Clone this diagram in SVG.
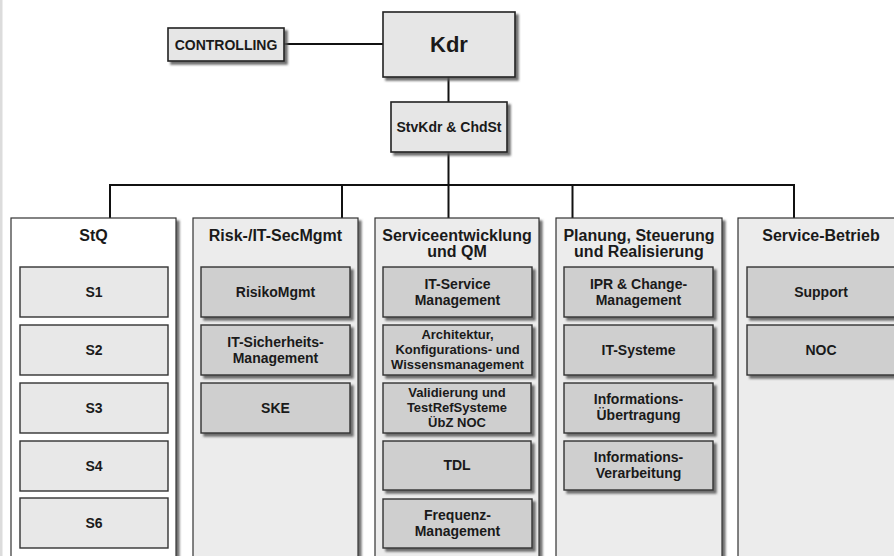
<svg xmlns="http://www.w3.org/2000/svg" width="894" height="556" viewBox="0 0 894 556">
  <defs>
    <filter id="shadow" x="-10%" y="-10%" width="130%" height="130%">
      <feDropShadow dx="3" dy="3" stdDeviation="0.8" flood-color="#555" flood-opacity="0.85"/>
    </filter>
  </defs>
  <style>
    text { font-family: "Liberation Sans", Arial, sans-serif; font-weight: bold; fill: #1a1a1a; text-anchor: middle; }
    .top { fill: #e6e6e6; stroke: #222; stroke-width: 1.6; filter: url(#shadow); }
    .col { fill: #ececec; stroke: #333; stroke-width: 1.2; filter: url(#shadow); }
    .col-white { fill: #ffffff; stroke: #333; stroke-width: 1.2; filter: url(#shadow); }
    .light { fill: #e8e8e8; stroke: #333; stroke-width: 1.4; }
    .dark { fill: #cfcfcf; stroke: #333; stroke-width: 1.4; filter: url(#shadow); }
    .title { font-size: 16px; }
    .item { font-size: 14px; }
    .small { font-size: 13px; }
    .conn { stroke: #111; stroke-width: 2; fill: none; }
  </style>

  <rect x="0" y="0" width="894" height="556" fill="#ffffff"/>
  <rect x="0" y="0" width="2.5" height="556" fill="#dcdcdc"/>

  <!-- connectors -->
  <g id="connectors">
    <line class="conn" x1="284" y1="44" x2="383" y2="44"/>
    <line class="conn" x1="448.5" y1="77" x2="448.5" y2="102"/>
    <line class="conn" x1="448.5" y1="152" x2="448.5" y2="218"/>
    <polyline class="conn" points="110,218 110,185 794,185 794,218"/>
    <line class="conn" x1="342" y1="185" x2="342" y2="218"/>
    <line class="conn" x1="572.5" y1="185" x2="572.5" y2="218"/>
  </g>

  <!-- top level -->
  <g id="controlling">
    <rect class="top" x="168" y="28" width="116" height="33"/>
    <text x="226" y="49.5" font-size="14">CONTROLLING</text>
  </g>
  <g id="kdr">
    <rect class="top" x="383" y="12" width="132" height="65"/>
    <text x="449" y="52" font-size="22">Kdr</text>
  </g>
  <g id="stvkdr">
    <rect class="top" x="391" y="102" width="116" height="50"/>
    <text x="449" y="132" font-size="14">StvKdr &amp; ChdSt</text>
  </g>

  <!-- column: StQ -->
  <g id="stq">
    <rect class="col-white" x="11" y="218" width="165" height="345"/>
    <text class="title" x="93.5" y="241">StQ</text>
    <g id="s1"><rect class="light" x="20" y="267" width="148" height="50"/><text class="item" x="94" y="297">S1</text></g>
    <g id="s2"><rect class="light" x="20" y="325" width="148" height="50"/><text class="item" x="94" y="355">S2</text></g>
    <g id="s3"><rect class="light" x="20" y="383" width="148" height="50"/><text class="item" x="94" y="413">S3</text></g>
    <g id="s4"><rect class="light" x="20" y="441" width="148" height="50"/><text class="item" x="94" y="471">S4</text></g>
    <g id="s6"><rect class="light" x="20" y="498" width="148" height="50"/><text class="item" x="94" y="528">S6</text></g>
  </g>

  <!-- column: Risk-/IT-SecMgmt -->
  <g id="risk">
    <rect class="col" x="193" y="218" width="165" height="345"/>
    <text class="title" x="275.5" y="241">Risk-/IT-SecMgmt</text>
    <g id="risikomgmt"><rect class="dark" x="201" y="267" width="149" height="50"/><text class="item" x="275.5" y="297">RisikoMgmt</text></g>
    <g id="itsicherheit"><rect class="dark" x="201" y="325" width="149" height="50"/>
      <text class="item" x="275.5" y="347">IT-Sicherheits-<tspan x="275.5" dy="16">Management</tspan></text></g>
    <g id="ske"><rect class="dark" x="201" y="383" width="149" height="50"/><text class="item" x="275.5" y="413">SKE</text></g>
  </g>

  <!-- column: Serviceentwicklung und QM -->
  <g id="serviceentwicklung">
    <rect class="col" x="375" y="218" width="164" height="345"/>
    <text class="title" x="457" y="241">Serviceentwicklung<tspan x="457" dy="16">und QM</tspan></text>
    <g id="itservice"><rect class="dark" x="383" y="267" width="149" height="50"/>
      <text class="item" x="457.5" y="289">IT-Service<tspan x="457.5" dy="16">Management</tspan></text></g>
    <g id="architektur"><rect class="dark" x="383" y="325" width="149" height="50"/>
      <text class="small" x="457.5" y="339">Architektur,<tspan x="457.5" dy="15">Konfigurations-  und</tspan><tspan x="457.5" dy="15">Wissensmanagement</tspan></text></g>
    <g id="validierung"><rect class="dark" x="383" y="383" width="148" height="50"/>
      <text class="small" x="457" y="397">Validierung  und<tspan x="457" dy="15">TestRefSysteme</tspan><tspan x="457" dy="15">ÜbZ NOC</tspan></text></g>
    <g id="tdl"><rect class="dark" x="383" y="441" width="148" height="49"/><text class="item" x="457" y="470">TDL</text></g>
    <g id="frequenz"><rect class="dark" x="383" y="499" width="149" height="49"/>
      <text class="item" x="457.5" y="520">Frequenz-<tspan x="457.5" dy="16">Management</tspan></text></g>
  </g>

  <!-- column: Planung, Steuerung und Realisierung -->
  <g id="planung">
    <rect class="col" x="556" y="218" width="166" height="345"/>
    <text class="title" x="639" y="241">Planung, Steuerung<tspan x="639" dy="15.5">und Realisierung</tspan></text>
    <g id="ipr"><rect class="dark" x="564" y="267" width="149" height="50"/>
      <text class="item" x="638.5" y="289">IPR &amp; Change-<tspan x="638.5" dy="16">Management</tspan></text></g>
    <g id="itsysteme"><rect class="dark" x="564" y="325" width="149" height="50"/><text class="item" x="638.5" y="355">IT-Systeme</text></g>
    <g id="infouebertragung"><rect class="dark" x="564" y="383" width="149" height="50"/>
      <text class="item" x="638.5" y="404">Informations-<tspan x="638.5" dy="16">Übertragung</tspan></text></g>
    <g id="infoverarbeitung"><rect class="dark" x="564" y="441" width="149" height="49"/>
      <text class="item" x="638.5" y="462">Informations-<tspan x="638.5" dy="16">Verarbeitung</tspan></text></g>
  </g>

  <!-- column: Service-Betrieb -->
  <g id="servicebetrieb">
    <rect class="col" x="738" y="218" width="166" height="345"/>
    <text class="title" x="821" y="241">Service-Betrieb</text>
    <g id="support"><rect class="dark" x="747" y="267" width="150" height="50"/><text class="item" x="821" y="297">Support</text></g>
    <g id="noc"><rect class="dark" x="747" y="325" width="150" height="50"/><text class="item" x="821" y="355">NOC</text></g>
  </g>
</svg>
